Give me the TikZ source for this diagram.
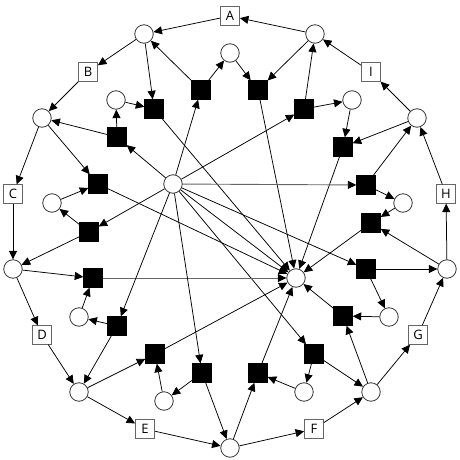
\documentclass[tikz,border=0pt]{standalone}
\usepackage{fontspec}
\setmainfont{Open Sans}
\usetikzlibrary{arrows.meta}
\tikzset{
  place/.style={circle,draw=black!80,line width=0.8pt,fill=white,minimum size=18.5pt,inner sep=0pt},
  trans/.style={rectangle,fill=black,draw=black,minimum size=19pt,inner sep=0pt},
  lab/.style={rectangle,draw=black!60,line width=0.8pt,fill=white,minimum width=19pt,minimum height=18.5pt,inner sep=0pt,font=\fontsize{13}{15}\selectfont},
  arr/.style={line width=0.75pt,-{Triangle[length=8.5pt,width=8pt]}},
  grayarr/.style={line width=0.9pt,draw=black!60,-{Triangle[length=8.5pt,width=8pt,color=black]}}
}
\begin{document}
\begin{tikzpicture}[x=1pt,y=-1pt]
\useasboundingbox (0,0) rectangle (460,460);
% ring
\node[lab] (A) at (230,16) {A};
\node[place] (pTL) at (144,34) {};
\node[lab] (B) at (88,72) {B};
\node[place] (pL) at (42,118) {};
\node[lab] (C) at (13,194) {C};
\node[place] (pLL) at (13,269) {};
\node[lab] (D) at (42,335) {D};
\node[place] (pBL) at (79,392) {};
\node[lab] (E) at (145,429) {E};
\node[place] (pB) at (230,448) {};
\node[lab] (F) at (314,429) {F};
\node[place] (pBR) at (371,392) {};
\node[lab] (G) at (418,335) {G};
\node[place] (pR) at (447,269) {};
\node[lab] (H) at (446,194) {H};
\node[place] (pRR) at (417,118) {};
\node[lab] (I) at (371,72) {I};
\node[place] (pTR) at (315,34) {};
% hub and sink
\node[place] (hub) at (173,184) {};
\node[place] (sink) at (296,278) {};
% inner
\node[trans] (t1) at (154,109) {};
\node[place] (q1) at (116,100) {};
\node[trans] (t2) at (117,137) {};
\node[trans] (t3) at (201,90) {};
\node[place] (q2) at (230,53) {};
\node[trans] (t4) at (98,184) {};
\node[place] (q3) at (52,203) {};
\node[trans] (t5) at (89,232) {};
\node[trans] (t6) at (258,90) {};
\node[trans] (t7) at (304,109) {};
\node[place] (q4) at (352,100) {};
\node[trans] (t8) at (343,147) {};
\node[trans] (t9) at (366,185) {};
\node[place] (q5) at (403,203) {};
\node[trans] (t10) at (371,223) {};
\node[trans] (t11) at (366,269) {};
\node[place] (q6) at (389,317) {};
\node[trans] (t12) at (343,316) {};
\node[trans] (t13) at (314,354) {};
\node[place] (q7) at (304,392) {};
\node[trans] (t14) at (258,373) {};
\node[trans] (t15) at (93,278) {};
\node[place] (q8) at (79,317) {};
\node[trans] (t16) at (117,326) {};
\node[trans] (t17) at (155,354) {};
\node[trans] (t18) at (202,373) {};
\node[place] (q9) at (164,401) {};
% ring edges
\draw[arr] (A) -- (pTL);
\draw[arr] (pTL) -- (B);
\draw[arr] (B) -- (pL);
\draw[arr] (pL) -- (C);
\draw[arr] (C) -- (pLL);
\draw[arr] (pLL) -- (D);
\draw[arr] (D) -- (pBL);
\draw[arr] (pBL) -- (E);
\draw[arr] (E) -- (pB);
\draw[arr] (pB) -- (F);
\draw[arr] (F) -- (pBR);
\draw[arr] (pBR) -- (G);
\draw[arr] (G) -- (pR);
\draw[arr] (pR) -- (H);
\draw[arr] (H) -- (pRR);
\draw[arr] (pRR) -- (I);
\draw[arr] (I) -- (pTR);
\draw[arr] (pTR) -- (A);
% inner edges
\draw[arr] (pTL) -- (t1);
\draw[arr] (q1) -- (t1);
\draw[arr] (t1) -- (sink);
\draw[arr] (t2) -- (q1);
\draw[arr] (t2) -- (pL);
\draw[arr] (hub) -- (t2);
\draw[arr] (t3) -- (pTL);
\draw[arr] (t3) -- (q2);
\draw[arr] (hub) -- (t3);
\draw[arr] (pL) -- (t4);
\draw[arr] (q3) -- (t4);
\draw[arr] (t4) -- (sink);
\draw[arr] (t5) -- (q3);
\draw[arr] (hub) -- (t5);
\draw[arr] (t5) -- (pLL);
\draw[arr] (pTR) -- (t6);
\draw[arr] (q2) -- (t6);
\draw[arr] (t6) -- (sink);
\draw[arr] (t7) -- (pTR);
\draw[arr] (t7) -- (q4);
\draw[arr] (hub) -- (t7);
\draw[arr] (q4) -- (t8);
\draw[arr] (pRR) -- (t8);
\draw[arr] (t8) -- (sink);
\draw[arr] (t9) -- (pRR);
\draw[arr] (t9) -- (q5);
\draw[grayarr] (hub) -- (t9);
\draw[arr] (q5) -- (t10);
\draw[arr] (pR) -- (t10);
\draw[arr] (t10) -- (sink);
\draw[arr] (t11) -- (pR);
\draw[arr] (t11) -- (q6);
\draw[arr] (hub) -- (t11);
\draw[arr] (q6) -- (t12);
\draw[arr] (pBR) -- (t12);
\draw[arr] (t12) -- (sink);
\draw[arr] (hub) -- (t13);
\draw[arr] (t13) -- (q7);
\draw[arr] (t13) -- (pBR);
\draw[arr] (q7) -- (t14);
\draw[arr] (pB) -- (t14);
\draw[arr] (t14) -- (sink);
\draw[arr] (pLL) -- (t15);
\draw[arr] (q8) -- (t15);
\draw[grayarr] (t15) -- (sink);
\draw[arr] (t16) -- (q8);
\draw[arr] (hub) -- (t16);
\draw[arr] (t16) -- (pBL);
\draw[arr] (pBL) -- (t17);
\draw[arr] (q9) -- (t17);
\draw[arr] (t17) -- (sink);
\draw[arr] (t18) -- (q9);
\draw[arr] (hub) -- (t18);
\draw[arr] (t18) -- (pB);
\draw[arr] (hub) -- (sink);
\end{tikzpicture}
\end{document}
